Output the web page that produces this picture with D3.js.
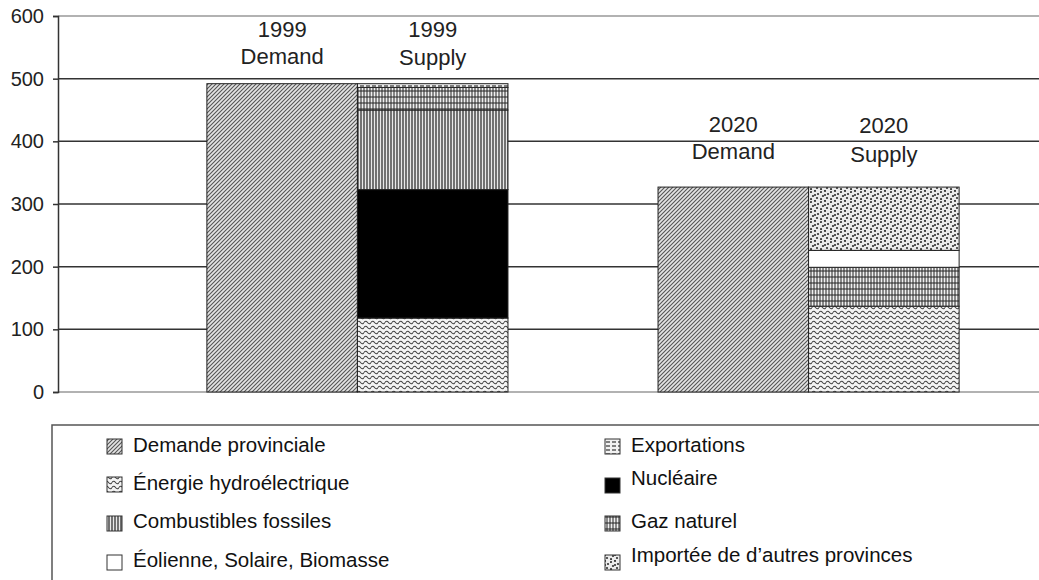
<!DOCTYPE html>
<html>
<head>
<meta charset="utf-8">
<script src="https://cdn.jsdelivr.net/npm/d3@7"></script>
<style>
  body { margin: 0; background: #fff; }
  svg { display: block; font-family: "Liberation Sans", Arial, sans-serif; }
</style>
</head>
<body>
<svg width="1039" height="580"></svg>
<script>
// bars: year + kind
var years = ["1999", "2020"];
var kinds = ["Demand", "Supply"];
var bars = ["1999 Demand", "1999 Supply", "2020 Demand", "2020 Supply"];

// values per bar (same order as bars), stacked bottom -> top
var demande    = [492, 0, 327, 0];
var hydro      = [0, 118, 0, 137];
var nucleaire  = [0, 205, 0, 0];
var fossiles   = [0, 127, 0, 0];
var gaz        = [0, 36, 0, 62];
var eolienne   = [0, 0, 0, 27];
var importee   = [0, 0, 0, 101];
var exports_   = [0, 6, 0, 0];

var yTicks = [0, 100, 200, 300, 400, 500, 600];

var seriesKeys = ["demande", "hydro", "nucleaire", "fossiles", "gaz", "eolienne", "importee", "exports"];
var seriesVals = {demande: demande, hydro: hydro, nucleaire: nucleaire, fossiles: fossiles,
                  gaz: gaz, eolienne: eolienne, importee: importee, exports: exports_};

// legend, two columns
var legendLeft = [["demande", "Demande provinciale"], ["hydro", "Énergie hydroélectrique"],
                  ["fossiles", "Combustibles fossiles"], ["eolienne", "Éolienne, Solaire, Biomasse"]];
var legendRight = [["exports", "Exportations"], ["nucleaire", "Nucléaire"],
                   ["gaz", "Gaz naturel"], ["importee", "Importée de d’autres provinces"]];

var svg = d3.select("svg");
var defs = svg.append("defs");

// fill patterns
function pattern(id, w, h, bg, draw) {
  var p = defs.append("pattern").attr("id", id).attr("patternUnits", "userSpaceOnUse")
    .attr("width", w).attr("height", h);
  p.append("rect").attr("width", w).attr("height", h).attr("fill", bg);
  draw(p);
}
pattern("p-demande", 4, 4, "#e4e4e4", function(p) {
  p.append("path").attr("d", "M-1,5 L5,-1 M-1,1 L1,-1 M3,5 L5,3").attr("stroke", "#555").attr("stroke-width", 1.1);
});
pattern("p-hydro", 7, 5, "#f4f4f4", function(p) {
  p.append("path").attr("d", "M0,2.5 Q1.75,0 3.5,2.5 T7,2.5").attr("fill", "none").attr("stroke", "#444").attr("stroke-width", 1.1);
});
pattern("p-fossiles", 3, 4, "#e8e8e8", function(p) {
  p.append("path").attr("d", "M1,0 L1,4").attr("stroke", "#222").attr("stroke-width", 1.2);
});
pattern("p-gaz", 6, 6, "#f0f0f0", function(p) {
  p.append("path").attr("d", "M1,0 L1,6 M0,1 L6,1 M4,0 L4,6").attr("stroke", "#222").attr("stroke-width", 1);
});
pattern("p-importee", 10, 10, "#ececec", function(p) {
  [[1,2],[5,1],[8,4],[3,6],[7,8],[1,9],[5,5]].forEach(function(d) {
    p.append("circle").attr("cx", d[0]).attr("cy", d[1]).attr("r", 1.1).attr("fill", "#333");
  });
});
pattern("p-exports", 6, 4, "#f2f2f2", function(p) {
  p.append("path").attr("d", "M0,2 L4,2").attr("stroke", "#333").attr("stroke-width", 1.2);
});

var fills = {demande: "url(#p-demande)", hydro: "url(#p-hydro)", nucleaire: "#000",
             fossiles: "url(#p-fossiles)", gaz: "url(#p-gaz)", eolienne: "#fff",
             importee: "url(#p-importee)", exports: "url(#p-exports)"};

var y = d3.scaleLinear().domain([0, 600]).range([392, 16]);
var xYear = d3.scaleBand().domain(years).range([58, 1108]).paddingInner(0.3326).paddingOuter(0.33);
var xKind = d3.scaleBand().domain(kinds).range([0, xYear.bandwidth()]);

function barX(i) {
  var parts = bars[i].split(" ");
  return xYear(parts[0]) + xKind(parts[1]);
}

// grid lines
svg.append("g").selectAll("line").data(yTicks).join("line")
  .attr("x1", 58).attr("x2", 1039)
  .attr("y1", function(d) { return y(d); }).attr("y2", function(d) { return y(d); })
  .attr("stroke", function(d) { return (d === 0 || d === 600) ? "#999" : "#333"; })
  .attr("stroke-width", 1.5);

// y axis
var yAxis = d3.axisLeft(y).tickValues(yTicks).tickSize(5).tickPadding(9);
var ya = svg.append("g").attr("transform", "translate(58,0)").call(yAxis);
ya.select(".domain").attr("stroke", "#333").attr("stroke-width", 1.5);
ya.selectAll(".tick line").attr("stroke", "#333").attr("stroke-width", 1.5);
ya.selectAll(".tick text").attr("font-size", 20).attr("fill", "#222")
  .attr("font-family", "Liberation Sans, Arial, sans-serif");

// stacked bars
var table = bars.map(function(b, i) {
  var row = {bar: b, i: i};
  seriesKeys.forEach(function(k) { row[k] = seriesVals[k][i]; });
  return row;
});
var stacked = d3.stack().keys(seriesKeys)(table);

svg.append("g").selectAll("g").data(stacked).join("g")
  .attr("fill", function(s) { return fills[s.key]; })
  .selectAll("rect").data(function(s) { return s.filter(function(d) { return d[1] > d[0]; }); }).join("rect")
  .attr("x", function(d) { return barX(d.data.i); })
  .attr("width", xKind.bandwidth())
  .attr("y", function(d) { return y(d[1]); })
  .attr("height", function(d) { return y(d[0]) - y(d[1]); })
  .attr("stroke", "#222").attr("stroke-width", 1);

// labels above bars
var totals = table.map(function(r) { return d3.sum(seriesKeys, function(k) { return r[k]; }); });
var labelGap = [47, 47, 55, 54];
var lineGap = [27, 28, 27, 29];
svg.append("g").selectAll("text").data(bars).join("text")
  .attr("text-anchor", "middle")
  .attr("font-size", 22).attr("fill", "#222")
  .attr("x", function(d, i) { return barX(i) + xKind.bandwidth() / 2; })
  .attr("y", function(d, i) { return y(totals[i]) - labelGap[i]; })
  .each(function(d, i) {
    var parts = d.split(" ");
    var t = d3.select(this);
    t.append("tspan").attr("x", t.attr("x")).attr("dy", 0).text(parts[0]);
    t.append("tspan").attr("x", t.attr("x")).attr("dy", lineGap[i]).text(parts[1]);
  });

// legend
svg.append("rect").attr("x", 52).attr("y", 425).attr("width", 1000).attr("height", 170)
  .attr("fill", "none").attr("stroke", "#555").attr("stroke-width", 1.5);

function drawLegend(items, sx, swatchY, textY) {
  var g = svg.append("g");
  items.forEach(function(it, i) {
    g.append("rect").attr("x", sx).attr("y", swatchY[i] - 14).attr("width", 15).attr("height", 15)
      .attr("fill", fills[it[0]]).attr("stroke", "#333").attr("stroke-width", 1);
    g.append("text").attr("x", sx + 26).attr("y", textY[i]).attr("font-size", 20.5).attr("fill", "#111")
      .text(it[1]);
  });
}
drawLegend(legendLeft, 107, [453, 491, 530, 569], [452, 490, 528, 567]);
drawLegend(legendRight, 605, [453, 492, 530, 569], [452, 485, 528, 562]);
</script>
</body>
</html>
